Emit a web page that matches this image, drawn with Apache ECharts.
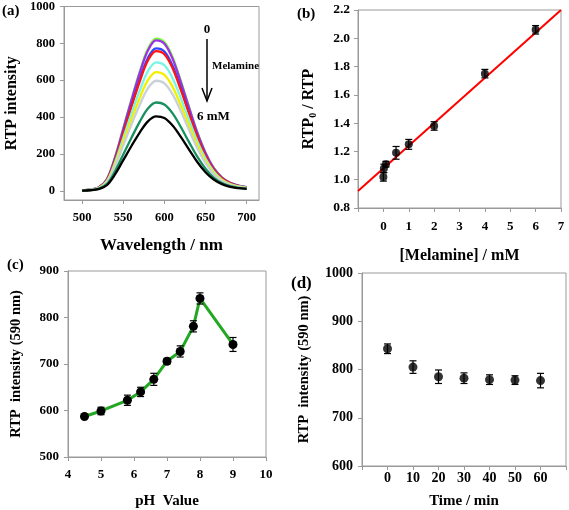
<!DOCTYPE html>
<html><head><meta charset="utf-8">
<script src="https://cdn.jsdelivr.net/npm/echarts@6/dist/echarts.min.js"></script>
<style>html,body{margin:0;padding:0;background:#fff}#c{width:569px;height:510px}</style>
</head><body><div id="c"></div>
<script>
// ---------- Panel (a): RTP spectra ----------
const wavelengths = [500,510,520,530,540,550,560,570,580,590,600,610,620,630,640,650,660,670,680,690,700];
const specGreen  = [2,7,18,62,182,339,497,646,770,826,807,725,596,455,319,207,124,73,43,28,20];
const specPurple = [2,7,18,61,180,335,491,638,761,816,798,716,589,450,315,205,123,72,43,28,20];
const specBlue   = [2,6,17,58,171,318,465,605,721,773,756,678,558,426,298,194,116,68,40,26,19];
const specRed    = [2,6,17,57,167,312,456,593,707,758,741,665,547,418,293,190,114,67,40,26,18];
const specCyan   = [2,6,15,52,154,286,419,544,649,697,681,611,503,384,269,175,105,61,36,24,17];
const specYellow = [2,5,14,48,142,264,387,503,600,644,629,564,464,355,248,161,97,57,34,22,15];
const specGray   = [2,5,13,45,132,245,359,466,556,597,583,523,431,329,230,150,90,53,31,20,14];
const specTeal   = [1,4,11,36,106,197,288,374,446,479,468,420,346,264,185,120,72,42,25,16,12];
const specBlack  = [1,3,9,30,89,166,243,316,377,404,395,354,292,223,156,101,61,36,21,14,10];
const aXTicks = [500,550,600,650,700];
const aYTicks = [0,200,400,600,800,1000];

// ---------- Panel (b): Stern-Volmer ----------
const bX   = [0, 0.02, 0.1, 0.5, 1, 2, 4, 6];
const bY   = [1.02, 1.08, 1.11, 1.19, 1.25, 1.38, 1.75, 2.06];
const bErr = [0.03, 0.03, 0.02, 0.045, 0.035, 0.03, 0.03, 0.03];
const bFitX = [-1, 7];
const bFitY = [0.92, 2.20];

// ---------- Panel (c): pH ----------
const cPH  = [4.5, 5, 5.8, 6.2, 6.6, 7, 7.4, 7.8, 8, 9];
const cY   = [587, 599, 622, 640, 667, 706, 727, 781, 841, 742];
const cErr = [4, 8, 11, 10, 13, 6, 12, 12, 12, 15];

// ---------- Panel (d): time ----------
const dT   = [0, 10, 20, 30, 40, 50, 60];
const dY   = [843, 805, 785, 782, 779, 778, 777];
const dErr = [10, 13, 14, 11, 10, 9, 15];

const FONT = 'Liberation Serif';
const GRAY = '#9a9a9a';
const txt = (size) => ({fontFamily: FONT, fontWeight: 'bold', fontSize: size, color: '#000'});
const plain = v => String(v);

function errRender(params, api) {
  const x = api.value(0), lo = api.value(1), hi = api.value(2);
  const p1 = api.coord([x, lo]), p2 = api.coord([x, hi]);
  const w = 3.5, st = {stroke: '#000', lineWidth: 1.2};
  return {type: 'group', children: [
    {type: 'line', shape: {x1: p1[0], y1: p1[1], x2: p2[0], y2: p2[1]}, style: st},
    {type: 'line', shape: {x1: p1[0]-w, y1: p1[1], x2: p1[0]+w, y2: p1[1]}, style: st},
    {type: 'line', shape: {x1: p2[0]-w, y1: p2[1], x2: p2[0]+w, y2: p2[1]}, style: st}
  ]};
}
const zip = (xs, ys) => xs.map((x, i) => [x, ys[i]]);
const errData = (xs, ys, es) => xs.map((x, i) => [x, ys[i]-es[i], ys[i]+es[i]]);

function axisBase(extra) {
  return Object.assign({
    type: 'value', splitLine: {show: false},
    axisLine: {show: true, onZero: false, lineStyle: {color: GRAY, width: 1}},
    axisTick: {show: true, length: 4, lineStyle: {color: GRAY}},
    nameLocation: 'middle'
  }, extra);
}

const specList = [
  [specGreen, '#7cf83c'], [specPurple, '#a032e6'], [specBlue, '#3246ff'], [specRed, '#ff1414'],
  [specCyan, '#78f5e6'], [specYellow, '#f2f000'], [specGray, '#c9d1d8'], [specTeal, '#17905f'], [specBlack, '#000000']
];
const specSeries = specList.map(([d, col], i) => ({
  type: 'line', xAxisIndex: 0, yAxisIndex: 0, smooth: 0.35, showSymbol: false,
  data: zip(wavelengths, d), lineStyle: {color: col, width: 2.3}, z: 2 + i
}));

const option = {
  animation: false,
  backgroundColor: '#fff',
  grid: [
    {left: 64, top: 6, width: 195, height: 194, show: true, borderColor: GRAY, borderWidth: 1},
    {left: 358, top: 10, width: 203, height: 198, show: true, borderColor: GRAY, borderWidth: 1},
    {left: 68, top: 271, width: 198, height: 188, show: true, borderColor: GRAY, borderWidth: 1},
    {left: 362, top: 273, width: 206, height: 196, show: true, borderColor: GRAY, borderWidth: 1}
  ],
  xAxis: [
    axisBase({gridIndex: 0, min: 478, max: 715,
      axisLabel: Object.assign(txt(12.5), {margin: 11, customValues: aXTicks, formatter: plain}),
      axisTick: {show: true, length: 4, lineStyle: {color: GRAY}, customValues: aXTicks},
      name: 'Wavelength / nm', nameGap: 37, nameTextStyle: txt(17)}),
    axisBase({gridIndex: 1, min: -1, max: 7, interval: 1,
      axisLabel: Object.assign(txt(13), {margin: 12, formatter: v => v < 0 ? '' : String(v)}),
      name: '[Melamine] / mM', nameGap: 40, nameTextStyle: txt(16)}),
    axisBase({gridIndex: 2, min: 4, max: 10, interval: 1,
      axisLabel: Object.assign(txt(13), {margin: 11, formatter: plain}),
      name: 'pH  Value', nameGap: 37, nameTextStyle: txt(15)}),
    axisBase({gridIndex: 3, min: -10, max: 70, interval: 10,
      axisLabel: Object.assign(txt(14), {margin: 5, formatter: v => (v < 0 || v > 60) ? '' : String(v)}),
      name: 'Time / min', nameGap: 28, nameTextStyle: txt(15)})
  ],
  yAxis: [
    axisBase({gridIndex: 0, min: -50, max: 1000,
      axisLabel: Object.assign(txt(12.5), {margin: 9, customValues: aYTicks, formatter: plain}),
      axisTick: {show: true, length: 4, lineStyle: {color: GRAY}, customValues: aYTicks},
      name: 'RTP intensity', nameGap: 44, nameTextStyle: txt(16)}),
    axisBase({gridIndex: 1, min: 0.8, max: 2.2, interval: 0.2,
      axisLabel: Object.assign(txt(13.5), {margin: 8, formatter: v => v.toFixed(1)}),
      name: 'RTP{s|0} / RTP', nameGap: 40,
      nameTextStyle: Object.assign(txt(16), {rich: {s: Object.assign(txt(10), {verticalAlign: 'bottom', padding: [8,0,0,0]})}})}),
    axisBase({gridIndex: 2, min: 500, max: 900, interval: 100,
      axisLabel: Object.assign(txt(13), {margin: 9, formatter: plain}),
      name: 'RTP  intensity (590 nm)', nameGap: 44, nameTextStyle: txt(14.5)}),
    axisBase({gridIndex: 3, min: 600, max: 1000, interval: 100,
      axisLabel: Object.assign(txt(14), {margin: 9, formatter: plain}),
      name: 'RTP  intensity (590 nm)', nameGap: 50, nameTextStyle: txt(14.5)})
  ],
  series: [
    ...specSeries,
    {type: 'line', xAxisIndex: 1, yAxisIndex: 1, showSymbol: false, data: zip(bFitX, bFitY),
     lineStyle: {color: '#ff0000', width: 2}, z: 2},
    {type: 'custom', xAxisIndex: 1, yAxisIndex: 1, renderItem: errRender, data: errData(bX, bY, bErr), z: 3},
    {type: 'scatter', xAxisIndex: 1, yAxisIndex: 1, symbol: 'circle', symbolSize: 8,
     itemStyle: {color: '#000'}, data: zip(bX, bY), z: 4},
    {type: 'line', xAxisIndex: 2, yAxisIndex: 2, data: zip(cPH, cY), symbol: 'circle', symbolSize: 9,
     showAllSymbol: true, itemStyle: {color: '#000'}, lineStyle: {color: '#22a822', width: 3}, z: 2},
    {type: 'custom', xAxisIndex: 2, yAxisIndex: 2, renderItem: errRender, data: errData(cPH, cY, cErr), z: 3},
    {type: 'custom', xAxisIndex: 3, yAxisIndex: 3, renderItem: errRender, data: errData(dT, dY, dErr), z: 3},
    {type: 'scatter', xAxisIndex: 3, yAxisIndex: 3, symbol: 'circle', symbolSize: 9,
     itemStyle: {color: '#000'}, data: zip(dT, dY), z: 4}
  ],
  graphic: [
    {type: 'text', left: 2, top: 4, style: {text: '(a)', font: 'bold 15px "Liberation Serif"', fill: '#000'}},
    {type: 'text', left: 297, top: 7, style: {text: '(b)', font: 'bold 15px "Liberation Serif"', fill: '#000'}},
    {type: 'text', left: 7, top: 258, style: {text: '(c)', font: 'bold 15px "Liberation Serif"', fill: '#000'}},
    {type: 'text', left: 291, top: 275, style: {text: '(d)', font: 'bold 17px "Liberation Serif"', fill: '#000'}},
    {type: 'text', x: 207, y: 30, style: {text: '0', font: 'bold 13px "Liberation Serif"', fill: '#000', align: 'center', verticalAlign: 'middle'}},
    {type: 'line', shape: {x1: 207, y1: 39, x2: 207, y2: 101}, style: {stroke: '#000', lineWidth: 1.5}},
    {type: 'polyline', shape: {points: [[202, 88], [207, 101], [212, 88]]}, style: {stroke: '#000', lineWidth: 1.5, fill: null}},
    {type: 'text', x: 212, y: 66, style: {text: 'Melamine', font: 'bold 11px "Liberation Serif"', fill: '#000', verticalAlign: 'middle'}},
    {type: 'text', x: 197, y: 117, style: {text: '6 mM', font: 'bold 13px "Liberation Serif"', fill: '#000', verticalAlign: 'middle'}}
  ]
};
const chart = echarts.init(document.getElementById('c'), null, {renderer: 'canvas'});
chart.setOption(option);
</script></body></html>
